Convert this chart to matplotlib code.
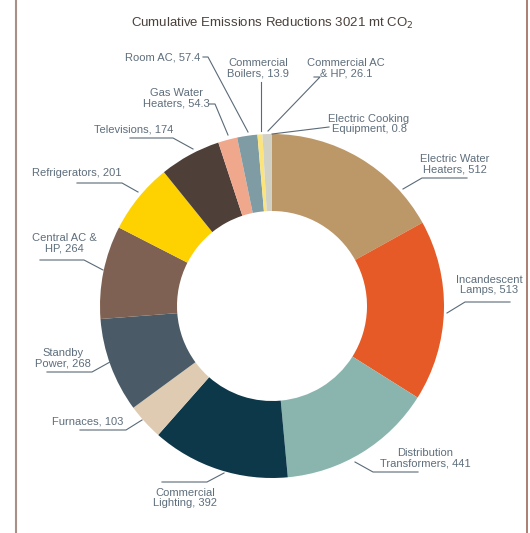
import matplotlib
matplotlib.use("Agg")
import matplotlib.pyplot as plt

# ---- data ----
categories = ["Electric Water\nHeaters", "Incandescent\nLamps", "Distribution\nTransformers",
              "Commercial\nLighting", "Furnaces", "Standby\nPower", "Central AC &\nHP",
              "Refrigerators", "Televisions", "Gas Water\nHeaters", "Room AC",
              "Commercial\nBoilers", "Commercial AC\n& HP", "Electric Cooking\nEquipment"]
values = [512, 513, 441, 392, 103, 268, 264, 201, 174, 54.3, 57.4, 13.9, 26.1, 0.8]
value_labels = ["512", "513", "441", "392", "103", "268", "264", "201", "174",
                "54.3", "57.4", "13.9", "26.1", "0.8"]
colors = ["#BC9768", "#E55A26", "#8AB5AF", "#0C384A", "#DFCBB1", "#4A5B67", "#7E6152",
          "#FDD200", "#4E3F38", "#F0A88D", "#7F9CA5", "#FCE47C", "#D2D1C6", "#C9B896"]
title = "Cumulative Emissions Reductions 3021 mt CO$_2$"

W, H = 530, 533
fig = plt.figure(figsize=(W / 100, H / 100), dpi=100)
ax = fig.add_axes([0, 0, 1, 1])

def Y(y):
    return H - y

cx, cy, R, ring = 272, 306, 172, 77
ax.pie(values, colors=colors, startangle=90, counterclock=False, radius=R,
       center=(cx, Y(cy)), frame=True,
       wedgeprops=dict(width=ring, linewidth=0.3, edgecolor="none", antialiased=True))
ax.set_xlim(0, W)
ax.set_ylim(0, H)
ax.set_aspect("equal")
ax.axis("off")

# frame lines
ax.plot([16, 16], [0, H], color="#A89088", lw=1.5, solid_capstyle="butt")
ax.plot([527, 527], [0, H], color="#9C6A5C", lw=1.2, solid_capstyle="butt")

fam = ["Liberation Sans Narrow", "Liberation Sans", "DejaVu Sans"]
tcol = "#5E6E7C"
lcol = "#5A6A78"

ax.text(272, Y(23), title, ha="center", va="center", fontsize=9.5,
        color="#4A403B", family=fam)

# layout: text anchor (x, y, ha) and leader polylines in pixel coordinates
layout = [
    ((455, 164, "center"), [(403, 189), (422, 178), (467, 178)]),
    ((489, 285, "center"), [(447, 313), (465, 302), (510, 302)]),
    ((425, 458, "center"), [(355, 462), (373, 472), (418, 472)]),
    ((185, 498, "center"), [(224, 473), (207, 482), (162, 482)]),
    ((123, 422, "right"), [(142, 420), (126, 430), (80, 430)]),
    ((63, 358, "center"), [(110, 362), (92, 372), (47, 372)]),
    ((64, 243, "center"), [(103, 270), (84, 260), (40, 260)]),
    ((122, 173, "right"), [(138, 192), (122, 183), (77, 183)]),
    ((173, 130, "right"), [(193, 149), (173, 138), (130, 138)]),
    ((176, 98, "center"), [(228, 135), (215, 104), (209, 104)]),
    ((200, 57, "right"), [(248, 132), (208, 57), (203, 57)]),
    ((258, 68, "center"), [(261, 131), (261, 82)]),
    ((346, 68, "center"), [(268, 131), (320, 77), (314, 77)]),
    ((369, 124, "center"), [(272, 134), (329, 127)]),
]

for cat, vl, ((tx, ty, ha), pts) in zip(categories, value_labels, layout):
    ax.text(tx, Y(ty), f"{cat}, {vl}", ha=ha, va="center", fontsize=8,
            color=tcol, family=fam, linespacing=1.05, multialignment="center")
    ax.plot([p[0] for p in pts], [Y(p[1]) for p in pts], color=lcol, lw=0.8)

fig.savefig("out.png", dpi=100, facecolor="white")
